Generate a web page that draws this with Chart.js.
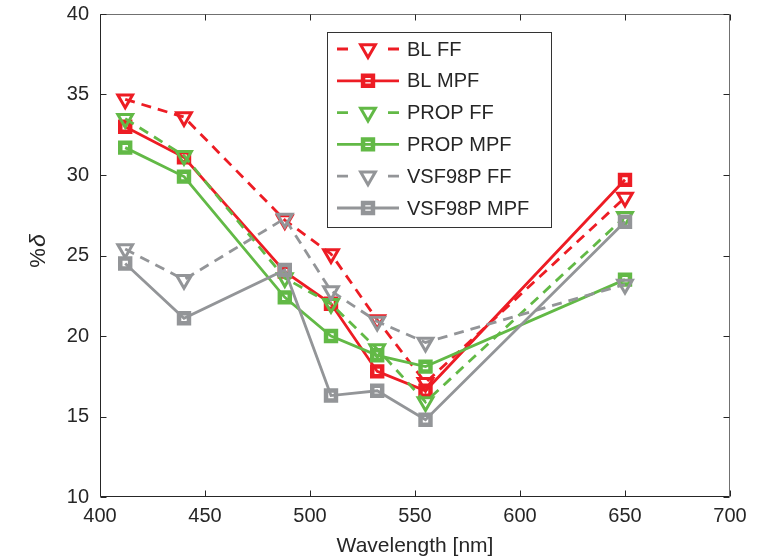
<!DOCTYPE html>
<html><head><meta charset="utf-8">
<script src="https://cdn.jsdelivr.net/npm/chart.js@4.4.1/dist/chart.umd.min.js"></script>
<style>html,body{margin:0;padding:0;background:#fff;} canvas{display:block;}</style>
</head><body>
<canvas id="c" width="771" height="559"></canvas>
<script>
const wavelengths = [412, 440, 488, 510, 532, 555, 650];
const blFF    = [34.7, 33.6, 27.2, 25.1, 21.0, 17.1, 28.6];
const blMPF   = [33.0, 31.1, 24.0, 22.0, 17.8, 16.6, 29.7];
const propFF  = [33.5, 31.2, 23.6, 22.0, 19.2, 15.9, 27.4];
const propMPF = [31.7, 29.9, 22.4, 20.0, 18.8, 18.1, 23.5];
const vsfFF   = [25.4, 23.5, 27.3, 22.8, 20.9, 19.6, 23.2];
const vsfMPF  = [24.5, 21.1, 24.1, 16.3, 16.6, 14.8, 27.1];
const seriesNames = ['BL FF', 'BL MPF', 'PROP FF', 'PROP MPF', 'VSF98P FF', 'VSF98P MPF'];
const xTicks = [400, 450, 500, 550, 600, 650, 700];
const yTicks = [10, 15, 20, 25, 30, 35, 40];
const xTitle = 'Wavelength [nm]';

const RED = '#ed1c24', GREEN = '#62b946', GRAY = '#939598';
const FONT = '"Liberation Sans", Arial, Helvetica, sans-serif';
const TXT = '#262626';
const TRI_R = 8.5, SQ_R = 7;

function ds(idx, data, color, dashed) {
  const tri = dashed;
  return {
    label: seriesNames[idx],
    data: wavelengths.map((w, i) => ({ x: w, y: data[i] })),
    borderColor: color,
    backgroundColor: 'rgba(0,0,0,0)',
    borderWidth: 2.8,
    borderDash: dashed ? [10, 7] : [],
    pointStyle: tri ? 'triangle' : 'rect',
    pointRotation: tri ? 180 : 0,
    pointRadius: tri ? TRI_R : SQ_R,
    pointBorderWidth: tri ? 3 : 4.5,
    pointBorderColor: color,
    pointBackgroundColor: 'rgba(0,0,0,0)',
    fill: false,
    tension: 0,
    order: 5 - idx
  };
}

const datasets = [
  ds(0, blFF, RED, true),
  ds(1, blMPF, RED, false),
  ds(2, propFF, GREEN, true),
  ds(3, propMPF, GREEN, false),
  ds(4, vsfFF, GRAY, true),
  ds(5, vsfMPF, GRAY, false)
];

function drawMarker(ctx, d, x, y) {
  ctx.save();
  ctx.setLineDash([]);
  ctx.strokeStyle = d.borderColor;
  ctx.lineWidth = d.pointBorderWidth;
  ctx.beginPath();
  if (d.pointStyle === 'triangle') {
    const r = d.pointRadius, s = Math.sin(Math.PI / 3) * r;
    ctx.moveTo(x, y + r);
    ctx.lineTo(x - s, y - r / 2);
    ctx.lineTo(x + s, y - r / 2);
    ctx.closePath();
  } else {
    const h = d.pointRadius * Math.SQRT1_2;
    ctx.rect(x - h, y - h, 2 * h, 2 * h);
  }
  ctx.stroke();
  ctx.restore();
}

const decorPlugin = {
  id: 'decor',
  afterDraw(chart) {
    const { ctx, chartArea: a, scales } = chart;
    const xs = scales.x, ys = scales.y;
    const L = Math.round(a.left) + 0.5, R = Math.round(a.right) - 0.5;
    const T = Math.round(a.top) + 0.5, B = Math.round(a.bottom) - 0.5;
    ctx.save();
    ctx.lineWidth = 1;
    ctx.setLineDash([]);
    ctx.strokeStyle = '#707070';
    ctx.beginPath();
    ctx.moveTo(L, T); ctx.lineTo(R, T); ctx.lineTo(R, B);
    ctx.stroke();
    ctx.strokeStyle = TXT;
    ctx.beginPath();
    ctx.moveTo(L, T); ctx.lineTo(L, B); ctx.lineTo(R, B);
    ctx.stroke();
    const tl = 6;
    ctx.beginPath();
    xTicks.forEach(v => {
      const px = Math.round(xs.getPixelForValue(v)) + 0.5;
      ctx.moveTo(px, B); ctx.lineTo(px, B - tl);
      ctx.moveTo(px, T); ctx.lineTo(px, T + tl);
    });
    yTicks.forEach(v => {
      const py = Math.round(ys.getPixelForValue(v)) + 0.5;
      ctx.moveTo(L, py); ctx.lineTo(L + tl, py);
      ctx.moveTo(R, py); ctx.lineTo(R - tl, py);
    });
    ctx.stroke();

    ctx.fillStyle = TXT;
    ctx.font = '21px ' + FONT;
    ctx.textAlign = 'center';
    ctx.textBaseline = 'middle';
    ctx.fillText(xTitle, (a.left + a.right) / 2, 546);

    ctx.save();
    ctx.translate(39, 251);
    ctx.rotate(-Math.PI / 2);
    const f1 = '22px ' + FONT, f2 = 'italic 23px ' + FONT;
    ctx.font = f1; const w1 = ctx.measureText('%').width;
    ctx.font = f2; const w2 = ctx.measureText('δ').width;
    const start = -(w1 + w2 + 1) / 2;
    ctx.textAlign = 'left';
    ctx.font = f1; ctx.fillText('%', start, 0);
    ctx.font = f2; ctx.fillText('δ', start + w1 + 1, 0);
    ctx.restore();

    const lx = Math.round(a.left) + 227, ly = Math.round(a.top) + 18;
    const lw = 224, lh = 195;
    ctx.fillStyle = '#ffffff';
    ctx.fillRect(lx, ly, lw, lh);
    ctx.strokeStyle = '#333333';
    ctx.lineWidth = 1;
    ctx.strokeRect(lx + 0.5, ly + 0.5, lw, lh);
    const rowY0 = ly + 17, rowH = 31.8;
    const x0 = lx + 10, x1 = lx + 72, xm = (x0 + x1) / 2;
    chart.data.datasets.forEach((d, i) => {
      const yy = rowY0 + i * rowH;
      ctx.strokeStyle = d.borderColor;
      ctx.lineWidth = d.borderWidth;
      ctx.beginPath();
      if (d.borderDash.length) {
        ctx.moveTo(x0, yy); ctx.lineTo(x0 + 11, yy);
        ctx.moveTo(x1 - 11, yy); ctx.lineTo(x1, yy);
      } else {
        ctx.moveTo(x0, yy); ctx.lineTo(x1, yy);
      }
      ctx.stroke();
      drawMarker(ctx, d, xm, yy);
      ctx.fillStyle = TXT;
      ctx.font = '20px ' + FONT;
      ctx.textAlign = 'left';
      ctx.textBaseline = 'middle';
      ctx.fillText(d.label, lx + 80, yy + 1);
    });
    ctx.restore();
  }
};

new Chart(document.getElementById('c'), {
  type: 'line',
  data: { datasets },
  options: {
    responsive: false,
    devicePixelRatio: 1,
    animation: false,
    events: [],
    layout: { padding: { top: 14, right: 41, left: 0, bottom: 0 } },
    plugins: { legend: { display: false }, tooltip: { enabled: false }, title: { display: false } },
    scales: {
      x: {
        type: 'linear', min: 400, max: 700,
        afterBuildTicks: s => { s.ticks = xTicks.map(v => ({ value: v })); },
        ticks: { font: { family: FONT, size: 20 }, color: TXT, padding: 7, maxRotation: 0, autoSkip: false },
        grid: { display: false, drawTicks: false },
        border: { display: false },
        afterFit: s => { s.height = 62; s.paddingLeft = 0; s.paddingRight = 0; }
      },
      y: {
        type: 'linear', min: 10, max: 40,
        afterBuildTicks: s => { s.ticks = yTicks.map(v => ({ value: v })); },
        ticks: { font: { family: FONT, size: 20 }, color: TXT, padding: 11, autoSkip: false },
        grid: { display: false, drawTicks: false },
        border: { display: false },
        afterFit: s => { s.width = 100; s.paddingTop = 0; s.paddingBottom = 0; }
      }
    }
  },
  plugins: [decorPlugin]
});
</script>
</body></html>
